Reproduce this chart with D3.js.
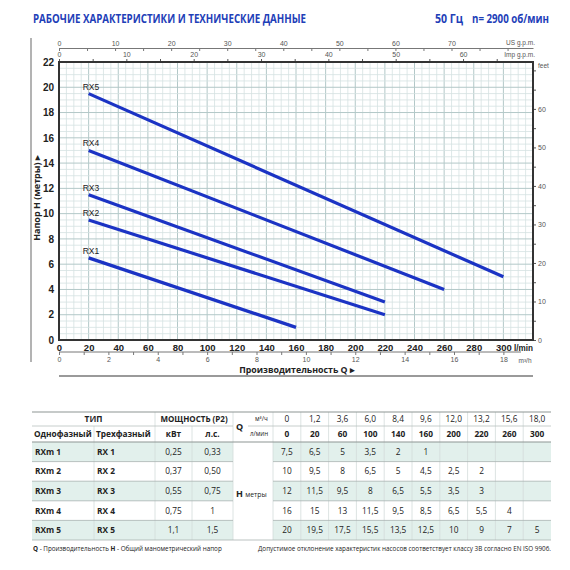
<!DOCTYPE html>
<html>
<head>
<meta charset="utf-8">
<script src="https://cdn.jsdelivr.net/npm/d3@7"></script>
<style>
	body { margin: 0; background: white; }
	svg { display: block; }
</style>
</head>
<body>
<svg></svg>
<script>
'use strict';

// flow points from the table
const qLmin = [0, 20, 60, 100, 140, 160, 200, 220, 260, 300];
const qM3h = ['0', '1,2', '3,6', '6,0', '8,4', '9,6', '12,0', '13,2', '15,6', '18,0'];

const singlePhase = ['RXm 1', 'RXm 2', 'RXm 3', 'RXm 4', 'RXm 5'];
const threePhase = ['RX 1', 'RX 2', 'RX 3', 'RX 4', 'RX 5'];
const curveNames = ['RX1', 'RX2', 'RX3', 'RX4', 'RX5'];
const powerKw = ['0,25', '0,37', '0,55', '0,75', '1,1'];
const powerHp = ['0,33', '0,50', '0,75', '1', '1,5'];

// head in metres from the table, null = out of range
const headRX1 = [7.5, 6.5, 5, 3.5, 2, 1, null, null, null, null];
const headRX2 = [10, 9.5, 8, 6.5, 5, 4.5, 2.5, 2, null, null];
const headRX3 = [12, 11.5, 9.5, 8, 6.5, 5.5, 3.5, 3, null, null];
const headRX4 = [16, 15, 13, 11.5, 9.5, 8.5, 6.5, 5.5, 4, null];
const headRX5 = [20, 19.5, 17.5, 15.5, 13.5, 12.5, 10, 9, 7, 5];
const heads = [headRX1, headRX2, headRX3, headRX4, headRX5];

// the plotted curves are straight segments (q in l/min, h in m)
const curveRX1 = [{ q: 20, h: 6.5 }, { q: 160, h: 1 }];
const curveRX2 = [{ q: 20, h: 9.5 }, { q: 220, h: 2 }];
const curveRX3 = [{ q: 20, h: 11.5 }, { q: 220, h: 3 }];
const curveRX4 = [{ q: 20, h: 15 }, { q: 260, h: 4 }];
const curveRX5 = [{ q: 20, h: 19.5 }, { q: 300, h: 5 }];
const curves = [curveRX1, curveRX2, curveRX3, curveRX4, curveRX5];

const yTicks = [0, 2, 4, 6, 8, 10, 12, 14, 16, 18, 20, 22];
const xTicks = [0, 20, 40, 60, 80, 100, 120, 140, 160, 180, 200, 220, 240, 260, 280, 300];

const opts = {
	width: 570,
	height: 570,
	left: 59,
	right: 533,
	top: 62,
	bottom: 340,
	blue: '#1b33c4',
	titleBlue: '#1e40b8',
	axisFont: '"Liberation Sans Narrow", "Liberation Sans", Arial, sans-serif',
	textFont: '"Open Sans", "Noto Sans", sans-serif'
};

const svg = d3.select('svg')
	.attr('width', opts.width)
	.attr('height', opts.height);

const x = d3.scaleLinear().domain([0, 320]).range([opts.left, opts.right]);
const y = d3.scaleLinear().domain([0, 22]).range([opts.bottom, opts.top]);

const fmt = (v) => String(v).replace('.', ',');

/* title */
const titleText = (tx, anchor, str, len) => {
	svg.append('text')
		.attr('x', tx).attr('y', 23)
		.attr('text-anchor', anchor)
		.attr('font-family', opts.textFont)
		.attr('font-weight', 700)
		.attr('font-size', 11.8)
		.attr('fill', opts.titleBlue)
		.attr('textLength', len)
		.attr('lengthAdjust', 'spacingAndGlyphs')
		.text(str);
};
titleText(33, 'start', 'РАБОЧИЕ ХАРАКТЕРИСТИКИ И ТЕХНИЧЕСКИЕ ДАННЫЕ', 273);
titleText(435, 'start', '50 Гц', 28);
titleText(549, 'end', 'n= 2900 об/мин', 77);

// gray frame lines at the left and under the chart
svg.append('line')
	.attr('x1', 31).attr('x2', 31).attr('y1', 38).attr('y2', 362)
	.attr('stroke', '#9a9a9a').attr('stroke-width', 1.5);
svg.append('line')
	.attr('x1', opts.left).attr('x2', opts.right).attr('y1', 376).attr('y2', 376)
	.attr('stroke', '#9a9a9a').attr('stroke-width', 2);

/* grid */
const grid = svg.append('g');

grid.selectAll('.vminor')
	.data(d3.range(0, 321, 5))
	.join('line')
	.attr('x1', (d) => x(d)).attr('x2', (d) => x(d))
	.attr('y1', opts.top).attr('y2', opts.bottom)
	.attr('stroke', (d) => d % 20 === 0 ? '#b3c8c8' : '#d5e2e2')
	.attr('stroke-width', (d) => d % 20 === 0 ? 1 : 0.8);

grid.selectAll('.hminor')
	.data(d3.range(0, 22.01, 0.5))
	.join('line')
	.attr('x1', opts.left).attr('x2', opts.right)
	.attr('y1', (d) => y(d)).attr('y2', (d) => y(d))
	.attr('stroke', (d) => d % 2 === 0 ? '#b3c8c8' : '#d5e2e2')
	.attr('stroke-width', (d) => d % 2 === 0 ? 1 : 0.8);

/* axes */
const styleAxis = (g, size, weight) => {
	g.select('.domain').remove();
	g.selectAll('text')
		.attr('font-family', opts.axisFont)
		.attr('font-size', size)
		.attr('font-weight', weight)
		.attr('fill', '#222');
	g.selectAll('line').attr('stroke', '#555');
};

// l/min
svg.append('g')
	.attr('transform', `translate(0,${opts.bottom})`)
	.call(d3.axisBottom(x).tickValues(xTicks).tickSize(0).tickPadding(4))
	.call((g) => styleAxis(g, 9.5, 700));

svg.append('text')
	.attr('x', 514).attr('y', 351)
	.attr('font-family', opts.axisFont)
	.attr('font-size', 9.5).attr('font-weight', 700)
	.attr('fill', '#222')
	.attr('textLength', 19)
	.attr('lengthAdjust', 'spacingAndGlyphs')
	.text('l/min');

// metres
svg.append('g')
	.attr('transform', `translate(${opts.left},0)`)
	.call(d3.axisLeft(y).tickValues(yTicks).tickSize(0).tickPadding(5))
	.call((g) => styleAxis(g, 10, 700));

// m3/h
const xm = d3.scaleLinear().domain([0, 320 * 0.06]).range([opts.left, opts.right]);
const m3Axis = svg.append('g')
	.attr('transform', 'translate(0,352)')
	.call(d3.axisBottom(xm)
		.tickValues(d3.range(0, 19, 1))
		.tickSizeInner(3).tickSizeOuter(0).tickPadding(2)
		.tickFormat((d) => d % 2 === 0 ? d : ''));
m3Axis.select('.domain').attr('stroke', '#777').attr('d', `M${opts.left},0H${opts.right - 12}`);
m3Axis.selectAll('line').attr('stroke', '#777');
m3Axis.selectAll('text')
	.attr('font-family', opts.axisFont)
	.attr('font-size', 7).attr('fill', '#555');

svg.append('text')
	.attr('x', 525).attr('y', 363)
	.attr('text-anchor', 'middle')
	.attr('font-family', opts.axisFont)
	.attr('font-size', 6.5).attr('fill', '#555')
	.text('m³/h');

// US g.p.m.
const xus = d3.scaleLinear().domain([0, 320 * 0.264172]).range([opts.left, opts.right]);
const usAxis = svg.append('g')
	.attr('transform', 'translate(0,48)')
	.call(d3.axisTop(xus)
		.tickValues(d3.range(0, 81, 5))
		.tickSizeInner(-3).tickSizeOuter(0).tickPadding(2)
		.tickFormat((d) => d % 10 === 0 && d <= 70 ? d : ''));
usAxis.select('.domain').attr('stroke', '#777');
usAxis.selectAll('line').attr('stroke', '#777');
usAxis.selectAll('text')
	.attr('font-family', opts.axisFont)
	.attr('font-size', 7).attr('fill', '#555');

svg.append('text')
	.attr('x', 535).attr('y', 45)
	.attr('text-anchor', 'end')
	.attr('font-family', opts.axisFont)
	.attr('font-size', 6.5).attr('fill', '#555')
	.text('US g.p.m.');

// Imp g.p.m.
const ximp = d3.scaleLinear().domain([0, 320 * 0.219969]).range([opts.left, opts.right]);
const impAxis = svg.append('g')
	.attr('transform', `translate(0,${opts.top})`)
	.call(d3.axisTop(ximp)
		.tickValues(d3.range(0, 66, 5))
		.tickSizeInner(3).tickSizeOuter(0).tickPadding(2)
		.tickFormat((d) => d % 10 === 0 ? d : ''));
impAxis.select('.domain').remove();
impAxis.selectAll('line').attr('stroke', '#555');
impAxis.selectAll('text')
	.attr('font-family', opts.axisFont)
	.attr('font-size', 7).attr('fill', '#555');

svg.append('text')
	.attr('x', 535).attr('y', 57)
	.attr('text-anchor', 'end')
	.attr('font-family', opts.axisFont)
	.attr('font-size', 6.5).attr('fill', '#555')
	.text('Imp g.p.m.');

// feet
const yft = d3.scaleLinear().domain([0, 22 / 0.3048]).range([opts.bottom, opts.top]);
const ftAxis = svg.append('g')
	.attr('transform', `translate(${opts.right},0)`)
	.call(d3.axisRight(yft)
		.tickValues(d3.range(0, 71, 5))
		.tickSizeInner(3).tickSizeOuter(0).tickPadding(2)
		.tickFormat((d) => d % 10 === 0 && d <= 60 ? d : ''));
ftAxis.select('.domain').remove();
ftAxis.selectAll('line').attr('stroke', '#555');
ftAxis.selectAll('text')
	.attr('font-family', opts.axisFont)
	.attr('font-size', 7).attr('fill', '#555');

svg.append('text')
	.attr('x', 538).attr('y', 68)
	.attr('font-family', opts.axisFont)
	.attr('font-size', 6.5).attr('fill', '#555')
	.text('feet');

// frame
svg.append('rect')
	.attr('x', opts.left).attr('y', opts.top)
	.attr('width', opts.right - opts.left)
	.attr('height', opts.bottom - opts.top)
	.attr('fill', 'none')
	.attr('stroke', '#333')
	.attr('stroke-width', 2);

// axis titles
svg.append('text')
	.attr('transform', 'translate(40,198) rotate(-90)')
	.attr('text-anchor', 'middle')
	.attr('font-family', opts.textFont)
	.attr('font-size', 9).attr('font-weight', 700)
	.attr('fill', '#222')
	.text('Напор H (метры) ▸');

svg.append('text')
	.attr('x', 297).attr('y', 373)
	.attr('text-anchor', 'middle')
	.attr('font-family', opts.textFont)
	.attr('font-size', 8.8).attr('font-weight', 700)
	.attr('fill', '#222')
	.text('Производительность Q ▸');

/* curves */
const line = d3.line()
	.x((d) => x(d.q))
	.y((d) => y(d.h));

curves.forEach((pts, i) => {
	svg.append('path')
		.datum(pts)
		.attr('d', line)
		.attr('fill', 'none')
		.attr('stroke', opts.blue)
		.attr('stroke-width', 3.2)
		.attr('stroke-linecap', 'butt');

	svg.append('text')
		.attr('x', x(pts[0].q) - 6)
		.attr('y', y(pts[0].h) - 4)
		.attr('font-family', opts.axisFont)
		.attr('font-size', 8.5)
		.attr('fill', '#222')
		.text(curveNames[i]);
});

/* table */
const tbl = svg.append('g');
const colX = [32, 94, 155, 192, 233, 273].concat(d3.range(1, 11).map((k) => 273 + k * 27.8));
const headTop = 412, headMid = 426, headBot = 442, rowH = 19.6;
const rowY = (i) => headBot + i * rowH;

// shaded rows
[0, 2, 4].forEach((i) => {
	tbl.append('rect')
		.attr('x', colX[0]).attr('y', rowY(i))
		.attr('width', colX[4] - colX[0]).attr('height', rowH)
		.attr('fill', '#e2f0ec');
	tbl.append('rect')
		.attr('x', colX[5]).attr('y', rowY(i))
		.attr('width', colX[15] - colX[5]).attr('height', rowH)
		.attr('fill', '#e2f0ec');
});

// vertical separators
colX.slice(1, 15).forEach((cx, k) => {
	const idx = k + 1;
	let y1 = headTop;
	if (idx === 1 || idx === 3) y1 = headMid;
	tbl.append('line')
		.attr('x1', cx).attr('x2', cx)
		.attr('y1', y1).attr('y2', rowY(5))
		.attr('stroke', '#d3dcda').attr('stroke-width', 0.8);
});

// horizontal rules
tbl.append('line')
	.attr('x1', colX[0]).attr('x2', colX[15]).attr('y1', headTop).attr('y2', headTop)
	.attr('stroke', '#8d9593').attr('stroke-width', 1.2);
tbl.append('line')
	.attr('x1', colX[0]).attr('x2', colX[4]).attr('y1', headMid).attr('y2', headMid)
	.attr('stroke', '#b9c1bf').attr('stroke-width', 0.8);
tbl.append('line')
	.attr('x1', 248).attr('x2', colX[15]).attr('y1', headMid).attr('y2', headMid)
	.attr('stroke', '#b9c1bf').attr('stroke-width', 0.8);
tbl.append('line')
	.attr('x1', colX[0]).attr('x2', colX[15]).attr('y1', headBot).attr('y2', headBot)
	.attr('stroke', '#8d9593').attr('stroke-width', 1);
d3.range(1, 6).forEach((i) => {
	tbl.append('line')
		.attr('x1', colX[0]).attr('x2', colX[4]).attr('y1', rowY(i)).attr('y2', rowY(i))
		.attr('stroke', '#aab3b1').attr('stroke-width', 0.8);
	tbl.append('line')
		.attr('x1', colX[5]).attr('x2', colX[15]).attr('y1', rowY(i)).attr('y2', rowY(i))
		.attr('stroke', '#aab3b1').attr('stroke-width', 0.8);
});
tbl.append('line')
	.attr('x1', colX[4]).attr('x2', colX[5]).attr('y1', rowY(5)).attr('y2', rowY(5))
	.attr('stroke', '#aab3b1').attr('stroke-width', 0.8);

const cellText = (tx, ty, str, anchor, bold, size) => {
	return tbl.append('text')
		.attr('x', tx).attr('y', ty)
		.attr('dy', '0.35em')
		.attr('text-anchor', anchor)
		.attr('font-family', opts.textFont)
		.attr('font-size', size || 8.3)
		.attr('font-weight', bold ? 700 : 400)
		.attr('fill', '#222')
		.text(str);
};

const mid = (a, b) => (a + b) / 2;
const headRow1 = mid(headTop, headMid);
const headRow2 = mid(headMid, headBot);

cellText(mid(colX[0], colX[2]), headRow1, 'ТИП', 'middle', true);
cellText(mid(colX[2], colX[4]), headRow1, 'МОЩНОСТЬ (P2)', 'middle', true, 8);
cellText(34, headRow2, 'Однофазный', 'start', true);
cellText(96, headRow2, 'Трехфазный', 'start', true);
cellText(mid(colX[2], colX[3]), headRow2, 'кВт', 'middle', true);
cellText(mid(colX[3], colX[4]), headRow2, 'л.с.', 'middle', true);
cellText(236, headMid + 1, 'Q', 'start', true, 9);
cellText(255, headRow1, 'м³/ч', 'start', false, 6.2);
cellText(250, headRow2, 'л/мин', 'start', false, 6.2);

qM3h.forEach((v, j) => {
	cellText(mid(colX[5 + j], colX[6 + j]), headRow1, v, 'middle', false);
});
qLmin.forEach((v, j) => {
	cellText(mid(colX[5 + j], colX[6 + j]), headRow2, v, 'middle', true);
});

d3.range(5).forEach((i) => {
	const cy = rowY(i) + rowH / 2;
	cellText(35, cy, singlePhase[i], 'start', true);
	cellText(97, cy, threePhase[i], 'start', true);
	cellText(mid(colX[2], colX[3]), cy, powerKw[i], 'middle', false);
	cellText(mid(colX[3], colX[4]), cy, powerHp[i], 'middle', false);
	heads[i].forEach((h, j) => {
		if (h !== null) cellText(mid(colX[5 + j], colX[6 + j]), cy, fmt(h), 'middle', false);
	});
});

const hLabel = tbl.append('text')
	.attr('x', 236).attr('y', rowY(2.5))
	.attr('dy', '0.35em')
	.attr('font-family', opts.textFont)
	.attr('fill', '#222');
hLabel.append('tspan').attr('font-weight', 700).attr('font-size', 9).text('H ');
hLabel.append('tspan').attr('font-size', 6.8).text('метры');

/* footer */
const foot = svg.append('text')
	.attr('x', 33).attr('y', 551)
	.attr('font-family', opts.textFont)
	.attr('font-size', 6.3)
	.attr('fill', '#222');
foot.append('tspan').attr('font-weight', 700).text('Q');
foot.append('tspan').text(' - Производительность   ');
foot.append('tspan').attr('font-weight', 700).text('H');
foot.append('tspan').text(' - Общий манометрический напор');

svg.append('text')
	.attr('x', 551).attr('y', 551)
	.attr('text-anchor', 'end')
	.attr('font-family', opts.textFont)
	.attr('font-size', 6.3)
	.attr('fill', '#222')
	.attr('textLength', 293)
	.attr('lengthAdjust', 'spacingAndGlyphs')
	.text('Допустимое отклонение характеристик насосов соответствует классу 3B согласно EN ISO 9906.');
</script>
</body>
</html>
